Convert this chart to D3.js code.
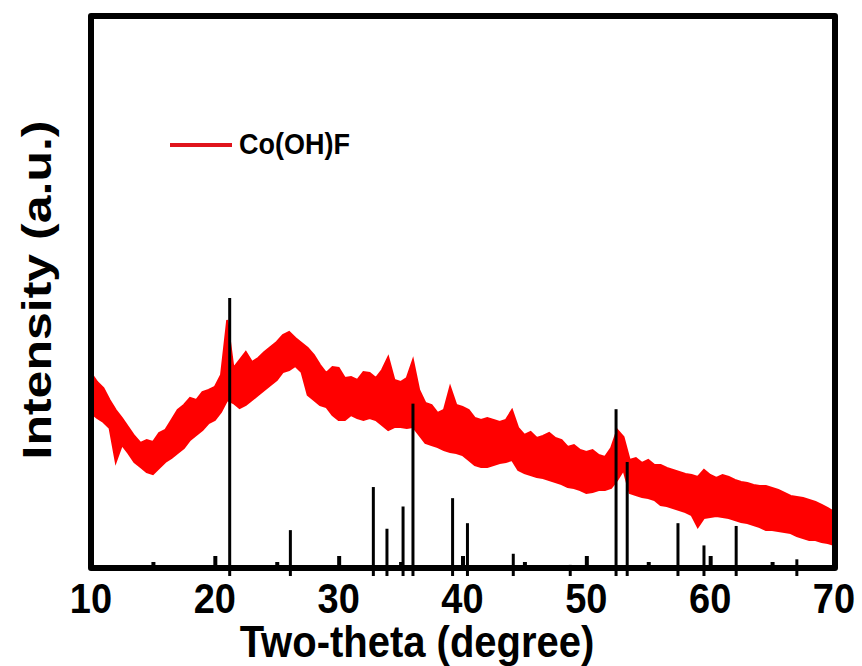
<!DOCTYPE html>
<html>
<head>
<meta charset="utf-8">
<script src="https://cdn.jsdelivr.net/npm/d3@7"></script>
<style>
  html, body { margin: 0; padding: 0; background: #fff; }
  text { font-family: "Liberation Sans", Arial, sans-serif; font-weight: bold; fill: #000; }
</style>
</head>
<body>
<script>
// two-theta grid of the measured pattern (deg)
const twoTheta = d3.range(0, 121).map(i => 10 + i * 0.5);

// upper / lower edge of the noisy red trace (a.u.)
const traceUpper = [
  194, 185, 179, 167, 157, 149, 140, 131, 124, 127,
  125, 134, 137, 147, 157, 162, 169, 167, 175, 177,
  180, 192, 247, 199, 207, 215, 205, 209, 215, 220,
  225, 232, 235, 229, 224, 219, 212, 202, 194, 200,
  199, 189, 190, 187, 195, 194, 189, 197, 210, 187,
  185, 189, 207, 177, 164, 162, 154, 157, 180, 162,
  160, 157, 149, 147, 149, 147, 145, 147, 157, 139,
  132, 135, 129, 131, 134, 129, 127, 120, 122, 117,
  115, 117, 112, 110, 119, 137, 130, 107, 109, 104,
  107, 102, 102, 99, 97, 95, 93, 92, 90, 97,
  92, 89, 92, 90, 87, 85, 84, 82, 81, 81,
  79, 77, 74, 71, 70, 69, 67, 65, 62, 59,
  55
];
const traceLower = [
  154, 149, 145, 139, 105, 122, 114, 105, 100, 95,
  93, 99, 105, 109, 114, 119, 127, 132, 137, 144,
  147, 155, 167, 164, 159, 162, 167, 172, 177, 182,
  187, 195, 197, 201, 195, 172, 167, 162, 160, 152,
  147, 147, 152, 149, 147, 149, 147, 142, 137, 140,
  140, 139, 140, 132, 124, 122, 120, 117, 115, 114,
  112, 107, 102, 100, 100, 102, 104, 105, 107, 97,
  94, 92, 90, 89, 87, 85, 83, 80, 79, 77,
  74, 75, 77, 77, 79, 87, 97, 74, 72, 70,
  69, 67, 62, 61, 59, 57, 55, 52, 40, 49,
  50, 51, 50, 49, 47, 45, 44, 42, 40, 37,
  37, 36, 35, 34, 31, 29, 27, 27, 25, 24,
  22
];

// reference pattern sticks
const stickPos = [21.2, 26.1, 32.8, 33.9, 35.2, 36.0, 39.2, 40.4, 44.1, 48.7, 52.4, 53.3, 57.4, 59.5, 62.1, 67.0];
const stickInt = [100, 16.5, 32, 17, 25, 62, 28, 19, 8, 4, 60, 41, 19, 11, 18, 6];

const majorTicks = [10, 20, 30, 40, 50, 60, 70];
const minorTicks = [15, 25, 35, 45, 55, 65];

const legendLabel = "Co(OH)F";
const xTitle = "Two-theta (degree)";
const yTitle = "Intensity (a.u.)";

const width = 862, height = 666;
const frameL = 91, frameR = 835, frameT = 16, frameB = 568;
const traceColor = "#ff0000";

const svg = d3.select("body").append("svg")
  .attr("width", width)
  .attr("height", height);

const x = d3.scaleLinear().domain([10, 70]).range([frameL, frameR - 1]);
const y = d3.scaleLinear().domain([0, 552]).range([frameB - 1, frameT - 1]);
const yStick = d3.scaleLinear().domain([0, 100]).range([576, 298]);

const traceData = twoTheta.map((t, i) => ({ t: t, hi: traceUpper[i], lo: traceLower[i] }));

// red band (upper/lower envelope of the noisy scan)
const area = d3.area()
  .x(d => x(d.t))
  .y0(d => y(d.lo))
  .y1(d => y(d.hi));

svg.append("path")
  .datum(traceData)
  .attr("d", area)
  .attr("fill", traceColor)
  .attr("stroke", traceColor)
  .attr("stroke-width", 2)
  .attr("stroke-linejoin", "miter");

// sticks
svg.append("g")
  .selectAll("line")
  .data(stickPos)
  .join("line")
  .attr("x1", d => x(d))
  .attr("x2", d => x(d))
  .attr("y1", yStick(0))
  .attr("y2", (d, i) => yStick(stickInt[i]))
  .attr("stroke", "#000")
  .attr("stroke-width", 3);

// inner ticks on the bottom axis
const xAxisMajor = d3.axisTop(x).tickValues(majorTicks).tickSize(12).tickFormat("");
const xAxisMinor = d3.axisTop(x).tickValues(minorTicks).tickSize(6).tickFormat("");
svg.append("g")
  .attr("transform", `translate(0, ${frameB})`)
  .call(xAxisMajor)
  .call(g => g.select(".domain").remove())
  .call(g => g.selectAll("line").attr("stroke", "#000").attr("stroke-width", 4));
svg.append("g")
  .attr("transform", `translate(0, ${frameB})`)
  .call(xAxisMinor)
  .call(g => g.select(".domain").remove())
  .call(g => g.selectAll("line").attr("stroke", "#000").attr("stroke-width", 4));

// frame
svg.append("rect")
  .attr("x", frameL)
  .attr("y", frameT)
  .attr("width", frameR - frameL)
  .attr("height", frameB - frameT)
  .attr("fill", "none")
  .attr("stroke", "#000")
  .attr("stroke-width", 6)
  .attr("stroke-linejoin", "round");

// tick labels
svg.append("g")
  .selectAll("text")
  .data(majorTicks)
  .join("text")
  .attr("transform", d => `translate(${x(d)}, 613) scale(1, 1.1)`)
  .attr("text-anchor", "middle")
  .style("font-size", "38px")
  .text(d => d);

// axis titles
svg.append("text")
  .attr("transform", "translate(417, 657) scale(1, 1.1)")
  .attr("text-anchor", "middle")
  .style("font-size", "40px")
  .text(xTitle);

svg.append("text")
  .attr("transform", "translate(51, 290) scale(1, 1.22) rotate(-90)")
  .attr("text-anchor", "middle")
  .style("font-size", "41px")
  .text(yTitle);

// legend
svg.append("line")
  .attr("x1", 170).attr("x2", 232)
  .attr("y1", 145).attr("y2", 145)
  .attr("stroke", "#e0141c")
  .attr("stroke-width", 4);

svg.append("text")
  .attr("transform", "translate(239, 154) scale(1, 1.12)")
  .style("font-size", "27px")
  .text(legendLabel);
</script>
</body>
</html>
